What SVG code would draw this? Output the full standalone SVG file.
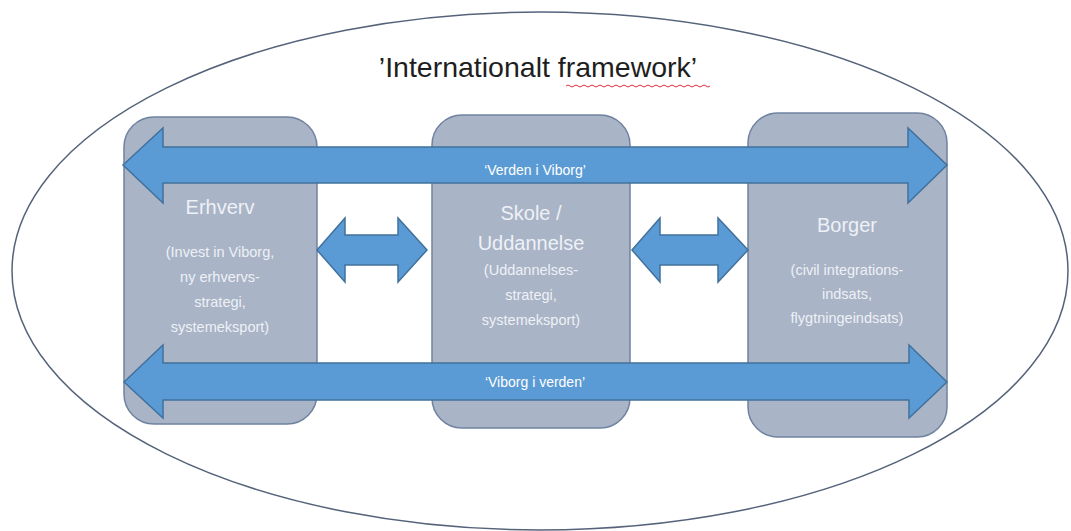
<svg xmlns="http://www.w3.org/2000/svg" width="1071" height="531" viewBox="0 0 1071 531">
<style>
.box{fill:#a9b4c7;stroke:#6f82a0;stroke-width:1.5}
.arr{fill:#5b9bd5;stroke:#41719c;stroke-width:1.5}
.t{font-family:"Liberation Sans",Arial,sans-serif;fill:#eef1f6;text-anchor:middle}
.h{font-size:20px}
.s{font-size:14.5px}
.lbl{font-family:"Liberation Sans",Arial,sans-serif;font-size:14px;fill:#ffffff;text-anchor:middle}
</style>
<rect width="1071" height="531" fill="#ffffff"/>
<g id="frame">
<ellipse cx="540" cy="271" rx="528" ry="259" fill="none" stroke="#55637a" stroke-width="1.5"/>
<text x="538" y="77" font-family="Liberation Sans,Arial,sans-serif" font-size="28.5" fill="#1e1e1e" text-anchor="middle">’Internationalt framework’</text>
<path d="M566 86 q2 -2 4 0 t4 0 t4 0 t4 0 t4 0 t4 0 t4 0 t4 0 t4 0 t4 0 t4 0 t4 0 t4 0 t4 0 t4 0 t4 0 t4 0 t4 0 t4 0 t4 0 t4 0 t4 0 t4 0 t4 0 t4 0 t4 0 t4 0 t4 0 t4 0 t4 0 t4 0 t4 0 t4 0 t4 0 t4 0 t4 0" fill="none" stroke="#e0303a" stroke-width="1"/>
</g>
<g id="erhverv">
<rect class="box" x="124" y="117" width="193" height="307" rx="30"/>
<text class="t h" x="220" y="214">Erhverv</text>
<text class="t s" x="220" y="257">(Invest in Viborg,</text>
<text class="t s" x="220" y="282">ny erhvervs-</text>
<text class="t s" x="220" y="307">strategi,</text>
<text class="t s" x="220" y="332">systemeksport)</text>
</g>
<g id="skole">
<rect class="box" x="432" y="115" width="198" height="313" rx="30"/>
<text class="t h" x="531" y="220">Skole /</text>
<text class="t h" x="531" y="250">Uddannelse</text>
<text class="t s" x="531" y="275">(Uddannelses-</text>
<text class="t s" x="531" y="300">strategi,</text>
<text class="t s" x="531" y="325">systemeksport)</text>
</g>
<g id="borger">
<rect class="box" x="748" y="113" width="199" height="324" rx="30"/>
<text class="t h" x="847" y="232">Borger</text>
<text class="t s" x="847" y="275">(civil integrations-</text>
<text class="t s" x="847" y="299">indsats,</text>
<text class="t s" x="847" y="323">flygtningeindsats)</text>
</g>
<g id="connectors">
<polygon class="arr" points="123,165 163,128 163,147 908,147 908,128 947,165 908,203 908,183 163,183 163,203"/>
<text class="lbl" x="535" y="175">‘Verden i Viborg’</text>
<polygon class="arr" points="124,382 163,345 163,363 909,363 909,345 947,382 909,418 909,400 163,400 163,418"/>
<text class="lbl" x="535" y="387">‘Viborg i verden’</text>
<polygon class="arr" points="317,250 345,218 345,235 398,235 398,218 427,250 398,282 398,265 345,265 345,282"/>
<polygon class="arr" points="632,250 660,218 660,235 718,235 718,218 748,250 718,282 718,265 660,265 660,282"/>
</g>
</svg>
